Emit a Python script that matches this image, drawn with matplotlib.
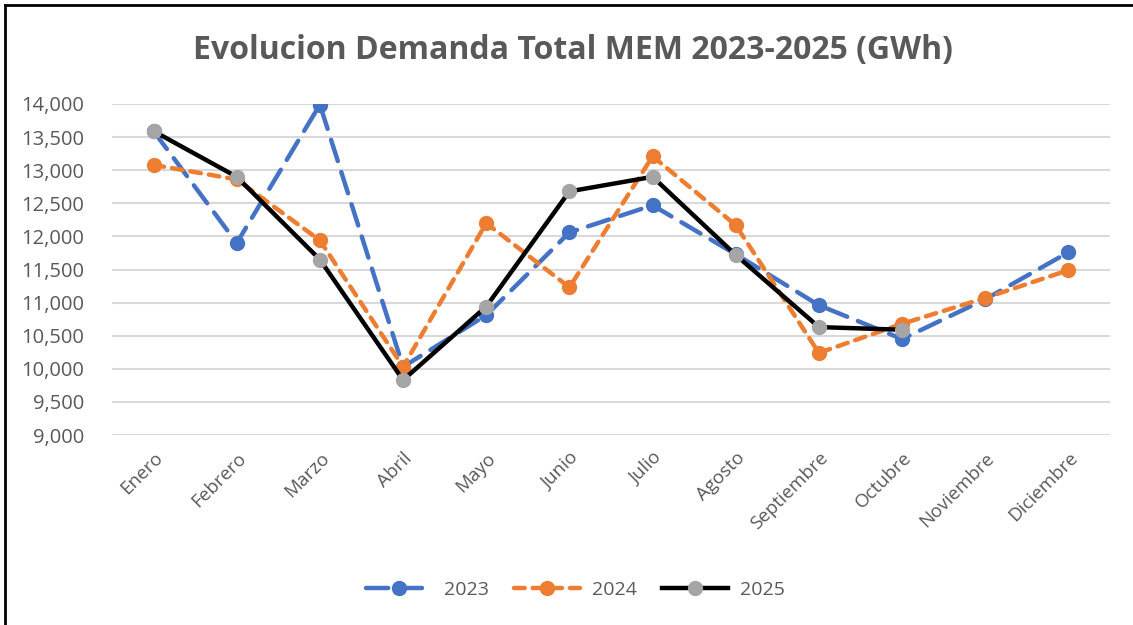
import numpy as np
import matplotlib.pyplot as plt
from matplotlib.ticker import FuncFormatter

meses = ["Enero", "Febrero", "Marzo", "Abril", "Mayo", "Junio", "Julio",
         "Agosto", "Septiembre", "Octubre", "Noviembre", "Diciembre"]
d2023 = [13590, 11900, 13990, 10030, 10810, 12060, 12470, 11730, 10960, 10450, 11050, 11760]
d2024 = [13080, 12860, 11940, 10030, 12200, 11230, 13210, 12170, 10240, 10680, 11070, 11490]
d2025 = [13590, 12900, 11650, 9830, 10940, 12680, 12900, 11720, 10630, 10590]

plt.rcParams["font.family"] = ["Open Sans", "DejaVu Sans"]
gris = "#595959"

fig = plt.figure(figsize=(11.33, 6.25), dpi=100)
ax = fig.add_axes([112 / 1133, 1 - 435 / 625, 998 / 1133, 331 / 625])

x = np.arange(len(meses))
ax.plot(x, d2023, color="#4472C4", lw=3.2, dashes=(5, 2.6), dash_capstyle="round",
        marker="o", ms=10, label="2023")
ax.plot(x, d2024, color="#ED7D31", lw=3.2, dashes=(2.4, 1.8), dash_capstyle="round",
        marker="o", ms=10, label="2024")
ax.plot(x[:len(d2025)], d2025, color="black", lw=3.2, marker="o", ms=10,
        markerfacecolor="#A5A5A5", markeredgecolor="#A5A5A5", label="2025")

ax.set_xlim(-0.5, 11.5)
ax.set_ylim(9000, 14000)
ax.set_yticks(np.arange(9000, 14001, 500))
ax.yaxis.set_major_formatter(FuncFormatter(lambda v, p: f"{int(v):,}"))
ax.set_xticks(x)
ax.set_xticklabels(meses, rotation=45, ha="right", rotation_mode="anchor")
ax.tick_params(length=0, labelsize=13.5, labelcolor=gris)
ax.tick_params(axis="y", labelsize=14.5, pad=20)
ax.tick_params(axis="x", pad=10)
ax.grid(axis="y", color="#D9D9D9", lw=1.5)
ax.set_axisbelow(True)
for s in ax.spines.values():
    s.set_visible(False)

fig.text(0.506, 0.92, "Evolucion Demanda Total MEM 2023-2025 (GWh)", ha="center",
         va="center", fontsize=23, fontweight="bold", color=gris)

leg = fig.legend(loc="center", bbox_to_anchor=(0.508, 1 - 590 / 625), ncol=3,
                 frameon=False, fontsize=14, handlelength=3.4, handletextpad=0.6,
                 columnspacing=1.3)
for t in leg.get_texts():
    t.set_color(gris)

# marco del grafico
fig.add_artist(plt.Line2D([5 / 1133, 5 / 1133], [0, 1 - 5 / 625], color="black", lw=2))
fig.add_artist(plt.Line2D([5 / 1133, 1], [1 - 5 / 625, 1 - 5 / 625], color="black", lw=2))

fig.savefig("out.png", dpi=100)
